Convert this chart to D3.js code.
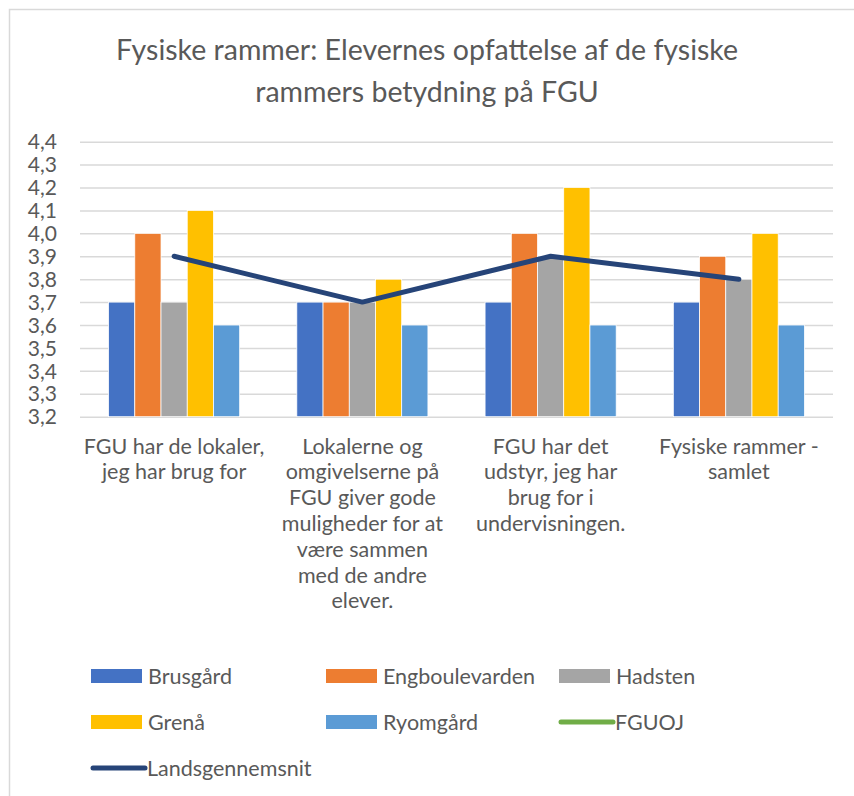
<!DOCTYPE html>
<html>
<head>
<meta charset="utf-8">
<script src="https://cdn.jsdelivr.net/npm/d3@7"></script>
<style>
  body { margin: 0; background: #fff; }
  text { font-family: Lato, "Open Sans", sans-serif; fill: #595959; }
</style>
</head>
<body>
<script>
// chart data
const categories = [
    ["FGU har de lokaler,", "jeg har brug for"],
    ["Lokalerne og", "omgivelserne på", "FGU giver gode", "muligheder for at", "være sammen", "med de andre", "elever."],
    ["FGU har det", "udstyr, jeg har", "brug for i", "undervisningen."],
    ["Fysiske rammer -", "samlet"]
];
const barSeries = ["Brusgård", "Engboulevarden", "Hadsten", "Grenå", "Ryomgård"];
const brusgaard = [3.7, 3.7, 3.7, 3.7];
const engboulevarden = [4.0, 3.7, 4.0, 3.9];
const hadsten = [3.7, 3.7, 3.9, 3.8];
const grenaa = [4.1, 3.8, 4.2, 4.0];
const ryomgaard = [3.6, 3.6, 3.6, 3.6];
const fguoj = [null, null, null, null];
const landsgennemsnit = [3.9, 3.7, 3.9, 3.8];
const yTicks = [3.2, 3.3, 3.4, 3.5, 3.6, 3.7, 3.8, 3.9, 4.0, 4.1, 4.2, 4.3, 4.4];
const title = ["Fysiske rammer: Elevernes opfattelse af de fysiske", "rammers betydning på FGU"];

const barValues = [brusgaard, engboulevarden, hadsten, grenaa, ryomgaard];
const colors = {
    "Brusgård": "#4472C4",
    "Engboulevarden": "#ED7D31",
    "Hadsten": "#A5A5A5",
    "Grenå": "#FFC000",
    "Ryomgård": "#5B9BD5",
    "FGUOJ": "#70AD47",
    "Landsgennemsnit": "#264478"
};

const width = 854, height = 796;
const plotLeft = 80, plotRight = 833, plotTop = 141.7, plotBottom = 416.7;

const svg = d3.select('body').append('svg')
    .attr('width', width)
    .attr('height', height);

// chart border (runs off the picture on right/bottom)
svg.append('rect')
    .attr('x', 9.5).attr('y', 9.5)
    .attr('width', 900).attr('height', 900)
    .attr('fill', 'none')
    .attr('stroke', '#d9d9d9')
    .attr('stroke-width', 1.5);

svg.append('g').selectAll('text')
    .data(title)
    .enter()
    .append('text')
    .attr('x', 427)
    .attr('y', (_, i) => 60 + i * 42)
    .attr('text-anchor', 'middle')
    .style('font-size', '28.5px')
    .text(d => d);

const x = d3.scaleBand()
    .domain(d3.range(categories.length))
    .range([plotLeft, plotRight]);

const xInner = d3.scaleBand()
    .domain(barSeries)
    .range([0, x.bandwidth()])
    .paddingOuter(1.09)
    .paddingInner(0);

const y = d3.scaleLinear()
    .domain([3.2, 4.4])
    .range([plotBottom, plotTop]);

const fmt = v => d3.format('.1f')(v).replace('.', ',');

// y gridlines + labels
const yAxis = svg.append('g')
    .attr('transform', `translate(${plotLeft},0)`)
    .call(d3.axisLeft(y).tickValues(yTicks).tickSize(-(plotRight - plotLeft)).tickFormat(fmt));
yAxis.select('.domain').remove();
yAxis.selectAll('.tick line')
    .attr('stroke', '#d9d9d9')
    .attr('stroke-width', 1.5);
yAxis.selectAll('.tick text')
    .attr('x', -23)
    .attr('dy', '0.34em')
    .style('font-size', '21px')
    .style('font-family', 'Lato, sans-serif')
    .attr('fill', '#595959');

// bars
const groups = svg.append('g').selectAll('g')
    .data(categories.map((_, i) => i))
    .enter()
    .append('g')
    .attr('transform', i => `translate(${x(i)},0)`);

groups.selectAll('rect')
    .data(i => barSeries.map((s, k) => ({ series: s, value: barValues[k][i] })))
    .enter()
    .append('rect')
    .attr('x', d => xInner(d.series))
    .attr('width', xInner.bandwidth())
    .attr('y', d => y(d.value))
    .attr('height', d => y(3.2) - y(d.value))
    .attr('fill', d => colors[d.series])
    .attr('stroke', '#ffffff')
    .attr('stroke-width', 0.75);

// lines
const line = d3.line()
    .defined(d => d != null)
    .x((_, i) => x(i) + x.bandwidth() / 2)
    .y(d => y(d));

svg.append('path')
    .datum(fguoj)
    .attr('d', line)
    .attr('fill', 'none')
    .attr('stroke', colors["FGUOJ"])
    .attr('stroke-width', 5);

svg.append('path')
    .datum(landsgennemsnit)
    .attr('d', line)
    .attr('fill', 'none')
    .attr('stroke', colors["Landsgennemsnit"])
    .attr('stroke-width', 5)
    .attr('stroke-linejoin', 'round')
    .attr('stroke-linecap', 'round');

// category labels
const xAxis = svg.append('g')
    .attr('transform', `translate(0,${plotBottom})`)
    .call(d3.axisBottom(x).tickSize(0).tickFormat(''));
xAxis.select('.domain').remove();
xAxis.selectAll('.tick').each(function (i) {
    const t = d3.select(this).append('text')
        .attr('text-anchor', 'middle')
        .attr('fill', '#595959')
        .style('font-size', '21.5px')
        .style('font-family', 'Lato, sans-serif');
    categories[i].forEach((ln, j) => {
        t.append('tspan')
            .attr('x', 0)
            .attr('y', 37 + j * 25.8)
            .text(ln);
    });
});

// legend
const legendItems = [
    { name: "Brusgård", type: "bar" },
    { name: "Engboulevarden", type: "bar" },
    { name: "Hadsten", type: "bar" },
    { name: "Grenå", type: "bar" },
    { name: "Ryomgård", type: "bar" },
    { name: "FGUOJ", type: "line" },
    { name: "Landsgennemsnit", type: "line" }
];
const colX = [91, 326, 559];
const rowY = [676, 722, 768];

const legend = svg.append('g').selectAll('g')
    .data(legendItems)
    .enter()
    .append('g')
    .attr('transform', (_, i) => `translate(${colX[i % 3]},${rowY[Math.floor(i / 3)]})`);

legend.filter(d => d.type === 'bar')
    .append('rect')
    .attr('x', 0).attr('y', -7)
    .attr('width', 51).attr('height', 14)
    .attr('fill', d => colors[d.name]);

legend.filter(d => d.type === 'line')
    .append('line')
    .attr('x1', 2).attr('x2', 54)
    .attr('y1', 0).attr('y2', 0)
    .attr('stroke', d => colors[d.name])
    .attr('stroke-width', 5)
    .attr('stroke-linecap', 'round');

legend.append('text')
    .attr('x', d => d.type === 'bar' ? 57 : 56)
    .attr('y', 0)
    .attr('dy', '0.35em')
    .style('font-size', '21.5px')
    .text(d => d.name);
</script>
</body>
</html>
